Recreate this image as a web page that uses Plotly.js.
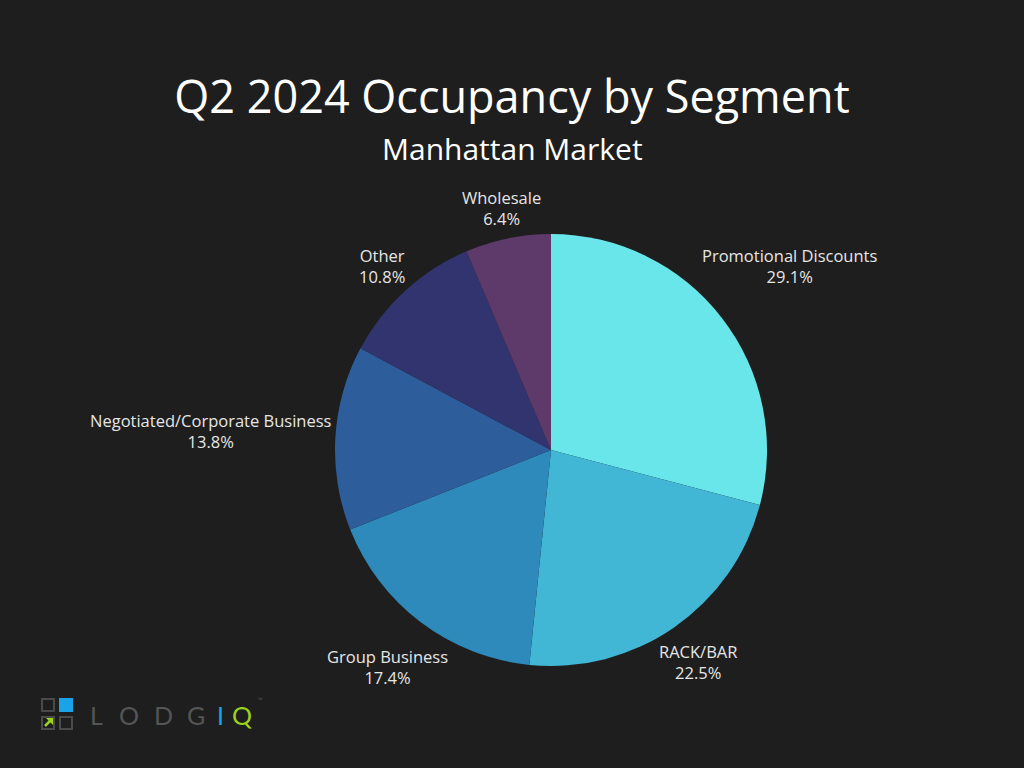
<!DOCTYPE html>
<html>
<head>
<meta charset="utf-8">
<script src="https://cdn.plot.ly/plotly-3.0.1.min.js"></script>
<style>
html,body{margin:0;padding:0;background:#1e1e1e;}
#chart{width:1024px;height:768px;}
</style>
</head>
<body>
<div id="chart"></div>
<script>
var segments = ["Promotional Discounts", "RACK/BAR", "Group Business", "Negotiated/Corporate Business", "Other", "Wholesale"];
var shares = [29.1, 22.5, 17.4, 13.8, 10.8, 6.4];
var sliceColors = ["#69e6e9", "#41b6d5", "#2d8abb", "#2d5e9b", "#31346f", "#5e3a6a"];

var FONT = "'Open Sans', 'Noto Sans', sans-serif";
var LABEL_SIZE = 16.5;
var W = 1024, H = 768;
var pieDomain = {x: [335 / W, 767 / W], y: [1 - 666 / H, 1 - 234 / H]};

var trace = {
  type: "pie",
  labels: segments,
  values: shares,
  sort: false,
  direction: "clockwise",
  rotation: 0,
  marker: {colors: sliceColors, line: {width: 0}},
  textinfo: "none",
  domain: pieDomain,
  hoverinfo: "label+percent",
  showlegend: false
};

function px(x) { return x / W; }
function py(y) { return 1 - y / H; }
function box(x0, y0, x1, y1, fill, line) {
  return {type: "rect", xref: "paper", yref: "paper", x0: px(x0), x1: px(x1), y0: py(y1), y1: py(y0),
    fillcolor: fill, line: {color: line, width: line === "rgba(0,0,0,0)" ? 0 : 2}};
}

// outside labels, placed radially from each slice's mid-angle
var ctx = document.createElement("canvas").getContext("2d");
ctx.font = LABEL_SIZE + "px 'Open Sans'";
var total = shares.reduce(function (a, b) { return a + b; }, 0);
var cxPx = (pieDomain.x[0] + pieDomain.x[1]) / 2 * W;
var cyPx = (1 - (pieDomain.y[0] + pieDomain.y[1]) / 2) * H;
var rPx = Math.min((pieDomain.x[1] - pieDomain.x[0]) * W, (pieDomain.y[1] - pieDomain.y[0]) * H) / 2;
var annotations = [];
var cum = 0;
shares.forEach(function (v, i) {
  var mid = (cum + v / 2) / total;
  cum += v;
  var th = mid * 2 * Math.PI;
  var pct = (v / total * 100).toFixed(1) + "%";
  var w = Math.max(ctx.measureText(segments[i]).width, ctx.measureText(pct).width) / 2;
  var h = LABEL_SIZE * 1.25;
  var d = rPx + 3 + Math.abs(Math.sin(th)) * w + Math.abs(Math.cos(th)) * h;
  annotations.push({
    text: segments[i] + "<br>" + pct,
    xref: "paper", yref: "paper",
    x: px(cxPx + d * Math.sin(th)), y: py(cyPx - d * Math.cos(th)),
    xanchor: "center", yanchor: "middle", showarrow: false, align: "center",
    font: {family: FONT, size: LABEL_SIZE, color: "#e6e6e6"}
  });
});

annotations.push({
  text: "Manhattan Market", xref: "paper", yref: "paper", x: 0.5, y: py(148),
  xanchor: "center", yanchor: "middle", showarrow: false,
  font: {family: FONT, size: 30, color: "#ffffff"}
});

var shapes = [
  box(42, 699, 54, 711, "rgba(0,0,0,0)", "#4a4a4a"),
  box(59, 698, 73, 712, "#1aa3e6", "rgba(0,0,0,0)"),
  box(42, 717, 54, 729, "rgba(0,0,0,0)", "#4a4a4a"),
  box(60, 717, 72, 729, "rgba(0,0,0,0)", "#4a4a4a"),
  {type: "line", xref: "paper", yref: "paper", x0: px(45), y0: py(726), x1: px(51), y1: py(720), line: {color: "#9bd21c", width: 2.5}},
  {type: "path", xref: "paper", yref: "paper",
   path: "M " + px(46) + "," + py(718) + " L " + px(53) + "," + py(718) + " L " + px(53) + "," + py(725) + " Z",
   fillcolor: "#9bd21c", line: {width: 0}}
];

var logoLetters = ["L", "O", "D", "G", "I", "Q"];
var logoX = [96, 129, 163, 196, 220, 242];
var logoColors = ["#555555", "#555555", "#555555", "#555555", "#1aa3e6", "#9bd21c"];
logoLetters.forEach(function (ch, i) {
  annotations.push({text: ch, xref: "paper", yref: "paper", x: px(logoX[i]), y: py(715), showarrow: false,
    xanchor: "center", yanchor: "middle", font: {family: "Lato, sans-serif", size: 25, color: logoColors[i]}});
});
annotations.push({text: "™", xref: "paper", yref: "paper", x: px(256), y: py(706), showarrow: false,
  font: {family: FONT, size: 6, color: "#555555"}});

var layout = {
  width: W, height: H,
  paper_bgcolor: "#1e1e1e", plot_bgcolor: "#1e1e1e",
  margin: {l: 0, r: 0, t: 0, b: 0},
  font: {family: FONT, color: "#ffffff"},
  title: {
    text: "Q2 2024 Occupancy by Segment",
    x: 0.5, xanchor: "center", xref: "paper",
    y: 1 - 97 / H, yanchor: "middle", yref: "container",
    font: {family: FONT, size: 45, color: "#ffffff"}
  },
  shapes: shapes,
  annotations: annotations
};

Plotly.newPlot("chart", [trace], layout, {displayModeBar: false, staticPlot: true});
</script>
</body>
</html>
